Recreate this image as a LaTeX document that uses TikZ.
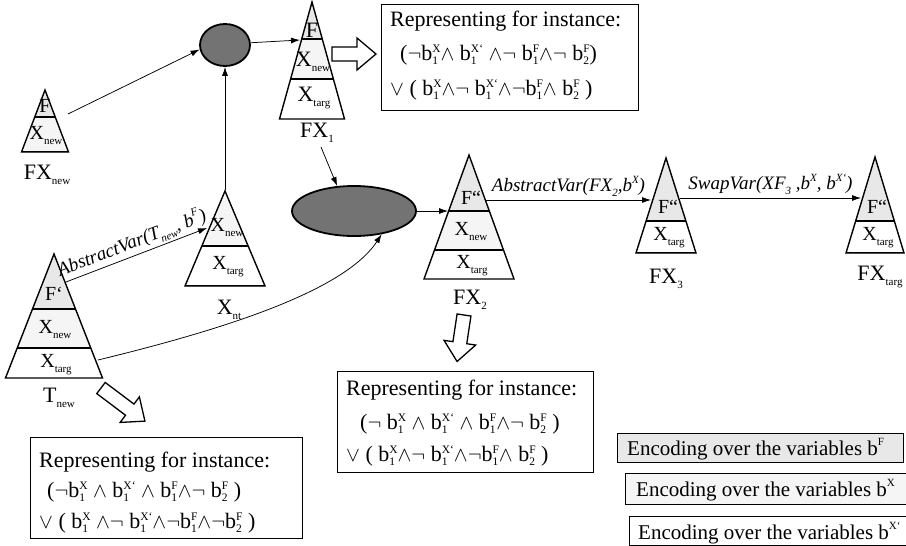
\documentclass[tikz,border=0pt]{standalone}
\usepackage{fontspec}
\setmainfont{Liberation Serif}
\usetikzlibrary{arrows.meta,shapes.geometric}
\newcommand\mysub[1]{\raisebox{-0.25em}{\fontsize{11}{11}\selectfont #1}}
\newcommand\mysup[1]{\raisebox{0.45em}{\fontsize{11}{11}\selectfont #1}}
\newcommand\bv[2]{b\begingroup\fontsize{11.5}{11.5}\selectfont\setbox0\hbox{#1}\setbox2\hbox{#2}%
  \ifdim\wd0>\wd2 \dimen0=\wd0 \else \dimen0=\wd2 \fi
  \rlap{\raisebox{0.65em}{\box2}}\rlap{\raisebox{-0.4em}{\box0}}\hspace{\dimen0}\endgroup}
\newcommand\Xp{X\textquoteleft}
\colorlet{Ffill}{black!9}
\colorlet{Nfill}{black!4}
\newcommand\Tri[9]{%
 \coordinate (#1-a) at (#2,#3);
 \coordinate (#1-l) at ({#2-#5},#4);
 \coordinate (#1-r) at ({#2+#5},#4);
 \begin{scope}
  \clip (#1-a) -- (#1-l) -- (#1-r) -- cycle;
  \fill[#8] ({#2-#5},#3) rectangle ({#2+#5},#6);
  \fill[#9] ({#2-#5},#6) rectangle ({#2+#5},#7);
  \draw[tri] ({#2-#5},#6) -- ({#2+#5},#6);
  \draw[tri] ({#2-#5},#7) -- ({#2+#5},#7);
 \end{scope}
 \draw[tri] (#1-a) -- (#1-l) -- (#1-r) -- cycle;}
\begin{document}
\begin{tikzpicture}[x=1pt,y=-1pt,
  tri/.style={line width=1.4pt,line join=miter},
  tl/.style={font=\fontsize{20}{22}\selectfont,inner sep=0pt},
  tlb/.style={font=\fontsize{22}{24}\selectfont,inner sep=0pt},
  nm/.style={font=\fontsize{22}{24}\selectfont,inner sep=0pt},
  con/.style={line width=0.75pt,-{Latex[length=9pt,width=6pt]}},
  ell/.style={ellipse,draw,line width=1.8pt,fill=black!55,inner sep=0pt},
  tbox/.style={draw,line width=0.8pt,fill=white,anchor=north west,inner sep=0pt},
  bt/.style={font=\fontsize{22}{24}\selectfont,anchor=base west,inner sep=0pt},
  lt/.style={font=\fontsize{21}{23}\selectfont,anchor=base west,inner sep=0pt},
  lab/.style={font=\itshape\fontsize{19}{21}\selectfont,inner sep=1pt},
  hollow/.pic={\draw[line width=1.3pt,fill=white,line join=miter]
     (0,-7)--({#1-19},-7)--({#1-19},-16)--(#1,0)--({#1-19},16)--({#1-19},7)--(0,7)--cycle;}
]
\useasboundingbox (0,0) rectangle (906,546);

% triangles
\Tri{fxn}{45}{90}{152}{23.5}{117}{152}{Ffill}{Nfill}
\Tri{fx1}{312}{2}{119}{32.5}{39}{79}{Ffill}{Nfill}
\Tri{xnt}{225}{191}{286}{40}{246}{286}{Nfill}{white}
\Tri{tn}{54}{254}{378}{48.5}{309}{348}{Ffill}{Nfill}
\Tri{fx2}{469}{155}{279}{45}{211}{250}{Ffill}{Nfill}
\Tri{fx3}{666}{158}{253}{30}{221}{253}{Ffill}{white}
\Tri{fxt}{875}{157}{253}{29}{221}{253}{Ffill}{white}

% triangle labels
\node[tl] (fxn-F) at (45,106) {F};
\node[tl] (fxn-N) at (46,136) {X\mysub{new}};
\node[nm] (fxn-n) at (47,175) {FX\mysub{new}};
\node[tlb] (fx1-F) at (312,30) {F};
\node[tlb] (fx1-N) at (313,62) {X\mysub{new}};
\node[tlb] (fx1-T) at (314,98) {X\mysub{targ}};
\node[nm] (fx1-n) at (317,133) {FX\mysub{1}};
\node[tl] (xnt-N) at (227,228) {X\mysub{new}};
\node[tl] (xnt-T) at (228,267) {X\mysub{targ}};
\node[nm] (xnt-n) at (229,310) {X\mysub{nt}};
\node[tl] (tn-F) at (54,294) {F\textquoteleft};
\node[tl] (tn-N) at (55,330) {X\mysub{new}};
\node[tl] (tn-T) at (56,365) {X\mysub{targ}};
\node[nm] (tn-n) at (59,398) {T\mysub{new}};
\node[tl] (fx2-F) at (471,198) {F\textquotedblleft};
\node[tl] (fx2-N) at (471,232) {X\mysub{new}};
\node[tl] (fx2-T) at (472,266) {X\mysub{targ}};
\node[nm] (fx2-n) at (470,300) {FX\mysub{2}};
\node[tl] (fx3-F) at (668,207) {F\textquotedblleft};
\node[tl] (fx3-T) at (669,238) {X\mysub{targ}};
\node[nm] (fx3-n) at (666,279) {FX\mysub{3}};
\node[tl] (fxt-F) at (877,207) {F\textquotedblleft};
\node[tl] (fxt-T) at (878,238) {X\mysub{targ}};
\node[nm] (fxt-n) at (880,277) {FX\mysub{targ}};

% ellipses
\node[ell,minimum width=50,minimum height=42] (e1) at (225,45) {};
\node[ell,minimum width=124,minimum height=50] (e2) at (354,211) {};

% connector end points
\coordinate (fxn-o) at (68,114);
\coordinate (fx1-i) at (300,40);
\coordinate (xnt-top) at (225,190);
\coordinate (fx1-o) at (321,147);
\coordinate (fx2-i) at (448,211);
\coordinate (tn-o1) at (66,282);
\coordinate (xnt-i) at (207,228);
\coordinate (tn-o2) at (98,360);
\coordinate (fx2-o) at (486,200);
\coordinate (fx3-i) at (651,200);
\coordinate (fx3-o) at (680,198);
\coordinate (fxt-i) at (861,198);

\draw[con] (fxn-o) -- (e1.190);
\draw[con] (e1.5) -- (fx1-i);
\draw[con] (xnt-top) -- (e1.south);
\draw[con] (fx1-o) -- (e2.124);
\draw[con] (e2.east) -- (fx2-i);
\draw[con] (tn-o1) -- node[lab,sloped,above=1pt] {AbstractVar(T\mysub{new}, b\mysup{F})} (xnt-i);
\draw[con] (tn-o2) .. controls (230,328) and (345,290) .. (e2.-40);
\draw[con] (fx2-o) -- node[lab,above=2pt] {AbstractVar(FX\mysub{2},b\mysup{X})} (fx3-i);
\draw[con] (fx3-o) -- node[lab,above=2pt] {SwapVar(XF\mysub{3} ,b\mysup{X}, b\mysup{X\textquoteleft})} (fxt-i);

% hollow arrows
\pic at (332,54) {hollow=44};
\pic[rotate=-98.5] at (464,315) {hollow=47};
\pic[rotate=-37] at (101,388) {hollow=55};

% text boxes
\node[tbox,minimum width=257,minimum height=106] (box1) at (381,4) {};
\node[bt] (b1a) at (390,27) {Representing for instance:};
\node[bt] (b1b) at (400,60) {($\neg$\bv{1}{X}$\wedge$ \bv{1}{\Xp} $\wedge\neg$ \bv{1}{F}$\wedge\neg$ \bv{2}{F})};
\node[bt] (b1c) at (390,95) {$\vee$ ( \bv{1}{X}$\wedge\neg$ \bv{1}{\Xp}$\wedge\neg$\bv{1}{F}$\wedge$ \bv{2}{F} )};

\node[tbox,minimum width=256,minimum height=101] (box2) at (337,371) {};
\node[bt] (b2a) at (346,395) {Representing for instance:};
\node[bt] (b2b) at (360,429) {($\neg$ \bv{1}{X} $\wedge$ \bv{1}{\Xp} $\wedge$ \bv{1}{F}$\wedge\neg$ \bv{2}{F} )};
\node[bt] (b2c) at (346,461) {$\vee$ ( \bv{1}{X}$\wedge\neg$ \bv{1}{\Xp}$\wedge\neg$\bv{1}{F}$\wedge$ \bv{2}{F} )};

\node[tbox,minimum width=272,minimum height=101] (box3) at (30,437) {};
\node[bt] (b3a) at (39,467) {Representing for instance:};
\node[bt] (b3b) at (47,497) {($\neg$\bv{1}{X} $\wedge$ \bv{1}{\Xp} $\wedge$ \bv{1}{F}$\wedge\neg$ \bv{2}{F} )};
\node[bt] (b3c) at (39,528) {$\vee$ ( \bv{1}{X} $\wedge\neg$ \bv{1}{\Xp}$\wedge\neg$\bv{1}{F}$\wedge\neg$\bv{2}{F} )};

% legend
\node[tbox,fill=Ffill,minimum width=286,minimum height=29] (lg1) at (617,433) {};
\node[lt] (lg1t) at (627,455) {Encoding over the variables b\mysup{F}};
\node[tbox,fill=Nfill,minimum width=290,minimum height=31] (lg2) at (625,473) {};
\node[lt] (lg2t) at (636,496) {Encoding over the variables b\mysup{X}};
\node[tbox,minimum width=290,minimum height=29] (lg3) at (629,516) {};
\node[lt] (lg3t) at (638,539) {Encoding over the variables b\mysup{X\textquoteleft}};
\end{tikzpicture}
\end{document}
